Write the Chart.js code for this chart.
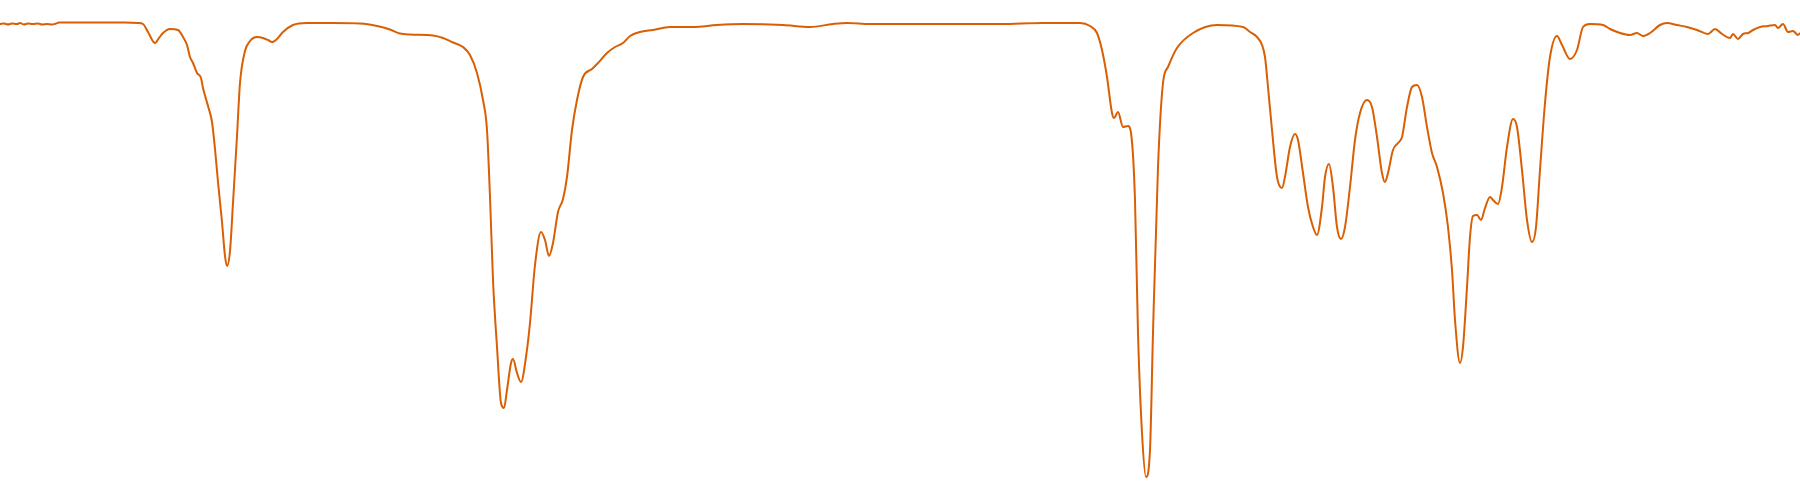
<!DOCTYPE html>
<html>
<head>
<meta charset="utf-8">
<script src="https://cdn.jsdelivr.net/npm/chart.js@4/dist/chart.umd.min.js"></script>
<style>
  html, body { margin: 0; padding: 0; background: #ffffff; }
  #wrap { width: 1800px; height: 500px; position: relative; }
</style>
</head>
<body>
<div id="wrap"><canvas id="c"></canvas></div>
<script>
// Wavenumber (cm-1)
const wavenumbers = [
  4000,3992,3984,3976,3966,3960,3952,3944,3934,3924,3916,3906,3896,3888,3882,3840,3780,3750,3724,3714,
  3704,3690,3682,3674,3660,3644,3634,3626,3620,3614,3606,3598,3594,3584,3576,3570,3564,3556,3550,3546,
  3540,3534,3526,3520,3510,3500,3486,3474,3464,3456,3446,3434,3414,3386,3334,3280,3246,3220,3200,3180,
  3134,3114,3094,3074,3060,3046,3034,3026,3020,3014,3006,2998,2992,2986,2978,2974,2966,2958,2948,2940,
  2930,2918,2910,2902,2894,2884,2874,2866,2856,2846,2834,2816,2804,2786,2770,2754,2740,2720,2694,2660,
  2614,2566,2514,2434,2380,2334,2306,2260,2200,2100,2000,1914,1840,1820,1806,1796,1786,1776,1772,1764,
  1754,1744,1738,1730,1724,1716,1708,1700,1694,1684,1674,1664,1646,1614,1566,1514,1500,1486,1476,1470,
  1464,1456,1446,1436,1430,1420,1410,1404,1394,1384,1374,1366,1356,1350,1342,1334,1326,1318,1310,1300,
  1290,1280,1266,1256,1246,1236,1230,1224,1214,1204,1196,1186,1176,1166,1156,1146,1136,1126,1114,1104,
  1096,1090,1080,1074,1066,1060,1054,1046,1038,1030,1020,1014,1004,996,986,974,966,956,946,936,
  928,920,910,900,886,876,860,846,834,820,794,780,760,740,726,714,700,680,666,646,
  626,606,584,570,556,540,534,524,514,504,494,480,464,450,444,434,424,414,404,400
];

// Transmittance (%)
const transmittance = [
  95.2,95.3,95.1,95.3,95.2,95.4,95.1,95.3,95.2,95.3,95.1,95.2,95.1,95.3,95.5,95.5,95.5,95.5,95.4,95.2,
  93.6,91.4,92.4,93.4,94.2,94.0,92.6,91.0,88.6,87.4,85.4,84.4,82.4,78.8,75.6,70.2,63.6,55.6,48.8,46.8,
  49.8,59.4,72.8,83.4,89.8,91.8,92.6,92.4,92.0,91.6,92.2,93.6,95.0,95.4,95.4,95.3,94.8,94.1,93.3,93.1,
  92.9,92.4,91.5,90.6,89.0,85.4,80.0,74.0,60.6,44.0,30.6,19.4,18.4,22.0,27.4,28.2,25.4,23.6,28.6,35.4,
  47.0,53.6,52.0,48.8,51.4,57.6,60.2,64.6,74.0,80.0,84.6,86.2,87.4,89.4,90.6,91.4,92.8,93.6,94.0,94.6,
  94.6,95.0,95.2,95.0,94.6,95.2,95.4,95.2,95.2,95.2,95.2,95.4,95.4,94.8,93.4,90.0,84.6,77.4,76.4,77.6,
  74.6,74.8,73.4,60.0,33.4,13.4,4.6,10.0,33.4,66.6,83.4,86.6,90.4,93.4,95.0,94.6,93.6,92.6,91.0,88.6,
  82.6,74.0,64.6,62.4,64.6,70.6,73.2,72.0,65.4,58.6,54.6,53.0,58.6,64.6,67.2,62.6,54.6,52.2,54.6,62.6,
  72.0,77.4,80.0,78.6,72.6,65.4,63.6,65.4,70.0,71.4,72.6,78.6,82.6,83.0,80.6,74.6,69.4,66.6,61.4,54.6,
  46.0,36.0,27.4,30.6,42.6,52.6,56.8,57.0,56.0,58.4,60.6,60.0,59.2,62.6,70.6,76.2,74.6,66.0,56.0,51.6,
  54.6,66.0,79.4,88.6,92.8,91.0,88.2,90.0,94.6,95.2,95.0,94.2,93.4,93.0,93.4,92.8,93.4,95.0,95.4,95.0,
  94.6,94.0,93.2,94.2,93.2,92.4,93.2,92.2,93.2,93.4,94.0,94.6,94.8,95.0,94.4,95.2,93.6,93.8,93.0,93.4
];

const lineColor = '#d95f02';

const points = wavenumbers.map((w, i) => ({ x: w, y: transmittance[i] }));

new Chart(document.getElementById('c'), {
  type: 'line',
  data: {
    datasets: [{
      label: 'Transmittance',
      data: points,
      borderColor: lineColor,
      backgroundColor: lineColor,
      borderWidth: 2,
      pointRadius: 0,
      pointHoverRadius: 0,
      fill: false,
      cubicInterpolationMode: 'monotone',
      clip: false
    }]
  },
  options: {
    responsive: true,
    maintainAspectRatio: false,
    animation: false,
    layout: { padding: 0 },
    plugins: {
      legend: { display: false },
      tooltip: { enabled: false },
      title: { display: false }
    },
    scales: {
      x: { type: 'linear', reverse: true, min: 400, max: 4000, display: false },
      y: { type: 'linear', min: 0, max: 100, display: false }
    }
  }
});
</script>
</body>
</html>
